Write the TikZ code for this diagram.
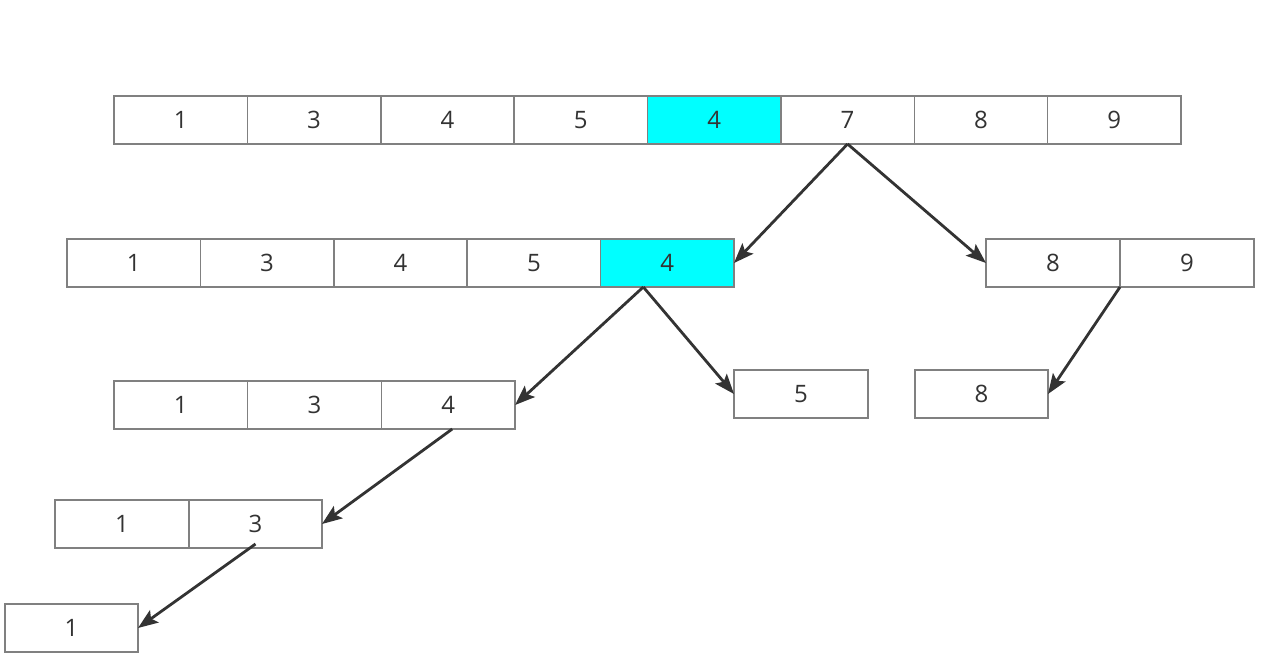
\documentclass[tikz,border=0pt]{standalone}
\usepackage{fontspec}
\setmainfont{Open Sans}
\usetikzlibrary{arrows.meta,calc}
\definecolor{cellborder}{HTML}{808080}
\definecolor{txt}{HTML}{333333}
\definecolor{hl}{HTML}{00FFFF}
\tikzset{
  cell/.style={draw=cellborder, line width=1.5pt, fill=white, minimum height=48pt, inner sep=0pt, outer sep=0pt, anchor=north west, font=\fontsize{24}{27}\selectfont, text=txt},
  hlcell/.style={cell, fill=hl},
  link/.style={draw=txt, line width=2.8pt, -{Stealth[length=20pt,width=15pt,inset=4pt]}}
}
\begin{document}
\begin{tikzpicture}[x=1pt,y=-1pt]
\useasboundingbox (0,0) rectangle (1286,671);
% row 1
\foreach \i/\v in {0/1,1/3,2/4,3/5,5/7,6/8,7/9}{
  \node[cell, minimum width=133.4pt] (r1c\i) at ({114+\i*133.375},96) {\v};
}
\node[hlcell, minimum width=133.4pt] (r1c4) at ({114+4*133.375},96) {4};
% row 2 left
\foreach \i/\v in {0/1,1/3,2/4,3/5}{
  \node[cell, minimum width=133.4pt] (r2c\i) at ({67+\i*133.4},239) {\v};
}
\node[hlcell, minimum width=133.4pt] (r2c4) at ({67+4*133.4},239) {4};
% row 2 right
\node[cell, minimum width=134pt] (r2c5) at (986,239) {8};
\node[cell, minimum width=134pt] (r2c6) at (1120,239) {9};
% row 3
\foreach \i/\v in {0/1,1/3,2/4}{
  \node[cell, minimum width=133.7pt] (r3c\i) at ({114+\i*133.7},381) {\v};
}
\node[cell, minimum width=134pt] (five) at (734,370) {5};
\node[cell, minimum width=133pt] (eight) at (915,370) {8};
% row 4
\node[cell, minimum width=134pt] (r4c0) at (55,500) {1};
\node[cell, minimum width=133pt] (r4c1) at (189,500) {3};
% row 5
\node[cell, minimum width=133pt] (r5c0) at (5,604) {1};
% connectors
\coordinate (s1) at (r1c5.south);
\coordinate (s2) at ($(r2c4.south)+(-24,0)$);
\coordinate (s3) at (r2c5.south east);
\coordinate (s4) at ($(r3c2.south)+(4,0)$);
\coordinate (s5) at ($(r4c1.south)+(0,-4)$);
\draw[link] (s1) -- (r2c4.east);
\draw[link] (s1) -- (r2c5.west);
\draw[link] (s2) -- (r3c2.east);
\draw[link] (s2) -- (five.west);
\draw[link] (s3) -- (eight.east);
\draw[link] (s4) -- (r4c1.east);
\draw[link] (s5) -- (r5c0.east);
\end{tikzpicture}
\end{document}
